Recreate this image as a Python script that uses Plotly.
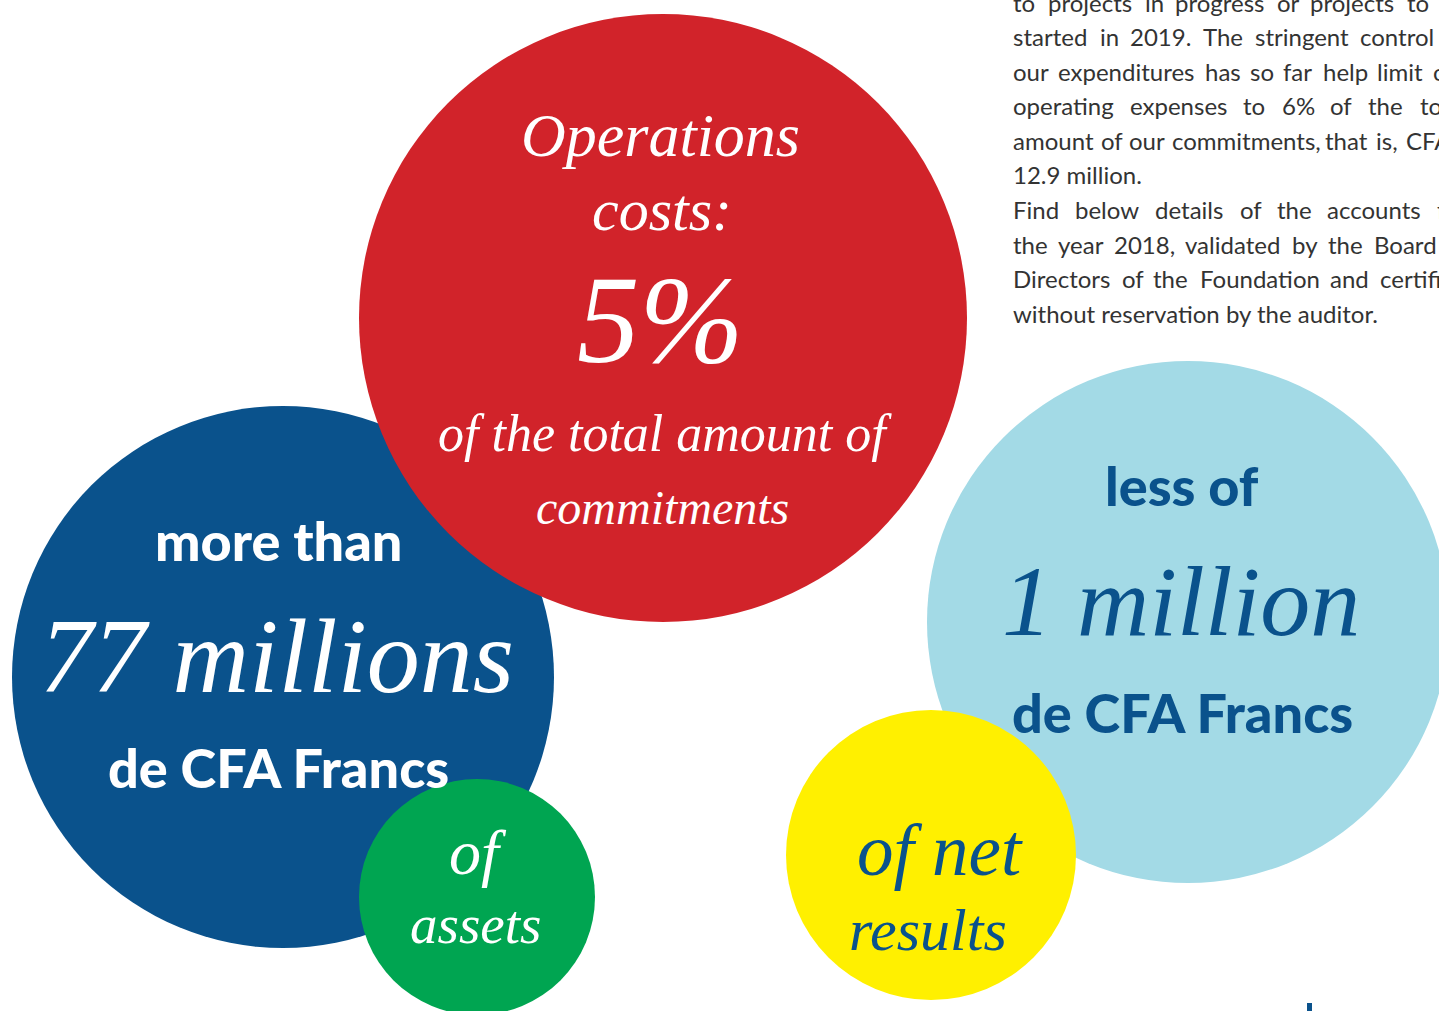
import plotly.graph_objects as go

# ---------------- data (texts / values) ----------------
red_lines = ["Operations", "costs:", "5%", "of the total amount of", "commitments"]
blue_lines = ["more than", "77 millions", "de CFA Francs"]
green_lines = ["of", "assets"]
light_lines = ["less of", "1 million", "de CFA Francs"]
yellow_lines = ["of net", "results"]

paragraph_lines = [
    "to projects in progress or projects to be",
    "started in 2019. The stringent control of",
    "our expenditures has so far help limit our",
    "operating expenses to 6% of the total",
    "amount of our commitments, that is, CFA",
    "12.9 million.",
    "Find below details of the accounts for",
    "the year 2018, validated by the Board of",
    "Directors of the Foundation and certified",
    "without reservation by the auditor.",
]

# ---------------- layout / styling ----------------
W, H = 1439, 1011
RED, DBLUE, GREEN, LBLUE, YELLOW = "#D1232A", "#0A528C", "#00A551", "#A3DAE6", "#FFF000"
TXT = "#333333"
SCRIPT = "Liberation Serif"
SANS = "Lato"

circles = [  # (cx, cy, r, color) in page pixels, drawing order
    (283, 677, 271, DBLUE),
    (663, 318, 304, RED),
    (477, 897, 118, GREEN),
    (1188, 622, 261, LBLUE),
    (931, 855, 145, YELLOW),
]

fig = go.Figure()
fig.add_trace(go.Scatter(x=[0, W], y=[0, H], mode="markers",
                         marker=dict(opacity=0), hoverinfo="skip", showlegend=False))

for cx, cy, r, col in circles:
    fig.add_shape(type="circle", xref="x", yref="y",
                  x0=cx - r, x1=cx + r, y0=cy - r, y1=cy + r,
                  fillcolor=col, line=dict(width=0), layer="above")

fig.add_shape(type="rect", xref="x", yref="y", x0=1307, x1=1312, y0=1003, y1=1012,
              fillcolor=DBLUE, line=dict(width=0))


def label(text, x, y, size, color, script=True):
    if script:
        font = dict(family=SCRIPT, size=size, color=color, style="italic")
    else:
        font = dict(family=SANS, size=size, color=color, weight=900)
    fig.add_annotation(x=x, y=y, xref="x", yref="y", text=text, showarrow=False,
                       xanchor="center", yanchor="middle", font=font)


# red bubble
red_pos = [(660, 135, 62), (662, 210, 60), (660, 320, 125), (665, 433, 52), (662, 507, 48)]
for t, (x, y, s) in zip(red_lines, red_pos):
    label(t, x, y, s, "white")

# dark blue bubble
label(blue_lines[0], 278, 540, 54, "white", script=False)
label(blue_lines[1], 277, 656, 106, "white")
label(blue_lines[2], 278, 767, 54, "white", script=False)

# green bubble
label(green_lines[0], 478, 852, 64, "white")
label(green_lines[1], 475, 924, 55, "white")

# light blue bubble
label(light_lines[0], 1182, 485, 54, DBLUE, script=False)
label(light_lines[1], 1181, 601, 100, DBLUE)
label(light_lines[2], 1182, 712, 54, DBLUE, script=False)

# yellow bubble
label(yellow_lines[0], 940, 850, 73, DBLUE)
label(yellow_lines[1], 928, 930, 60, DBLUE)

# justified paragraph: left x of each word per line
word_x = [
    [1013, 1048, 1145, 1175, 1277, 1310, 1407, 1450],
    [1013, 1100, 1130, 1203, 1255, 1360, 1450],
    [1013, 1058, 1205, 1250, 1283, 1323, 1377, 1433],
    [1013, 1130, 1243, 1282, 1330, 1368, 1420],
    [1013, 1101, 1129, 1172, 1325, 1376, 1406],
    None,
    [1013, 1075, 1155, 1240, 1277, 1327, 1437],
    [1013, 1058, 1114, 1185, 1292, 1328, 1374, 1450],
    [1013, 1122, 1153, 1200, 1330, 1380],
    None,
]
PSIZE = 24
PAD = 2
base0, step = 12.3, 34.55
for i, line in enumerate(paragraph_lines):
    yc = base0 + i * step - 0.42 * PSIZE
    xs = word_x[i]
    pfont = dict(family=SANS, size=PSIZE, color=TXT)
    if xs is None:
        fig.add_annotation(x=1013 - PAD, y=yc, xref="x", yref="y", text=line, showarrow=False,
                           xanchor="left", yanchor="middle", font=pfont)
    else:
        for w, x in zip(line.split(" "), xs):
            fig.add_annotation(x=x - PAD, y=yc, xref="x", yref="y", text=w, showarrow=False,
                               xanchor="left", yanchor="middle", font=pfont)

fig.update_layout(
    width=W, height=H, margin=dict(l=0, r=0, t=0, b=0),
    paper_bgcolor="white", plot_bgcolor="white", showlegend=False,
    xaxis=dict(range=[0, W], visible=False, fixedrange=True),
    yaxis=dict(range=[H, 0], visible=False, fixedrange=True),
)
fig.write_html("out.html", config={"displayModeBar": False},
               post_script="document.body.style.margin='0px'; document.body.style.overflow='hidden';")
